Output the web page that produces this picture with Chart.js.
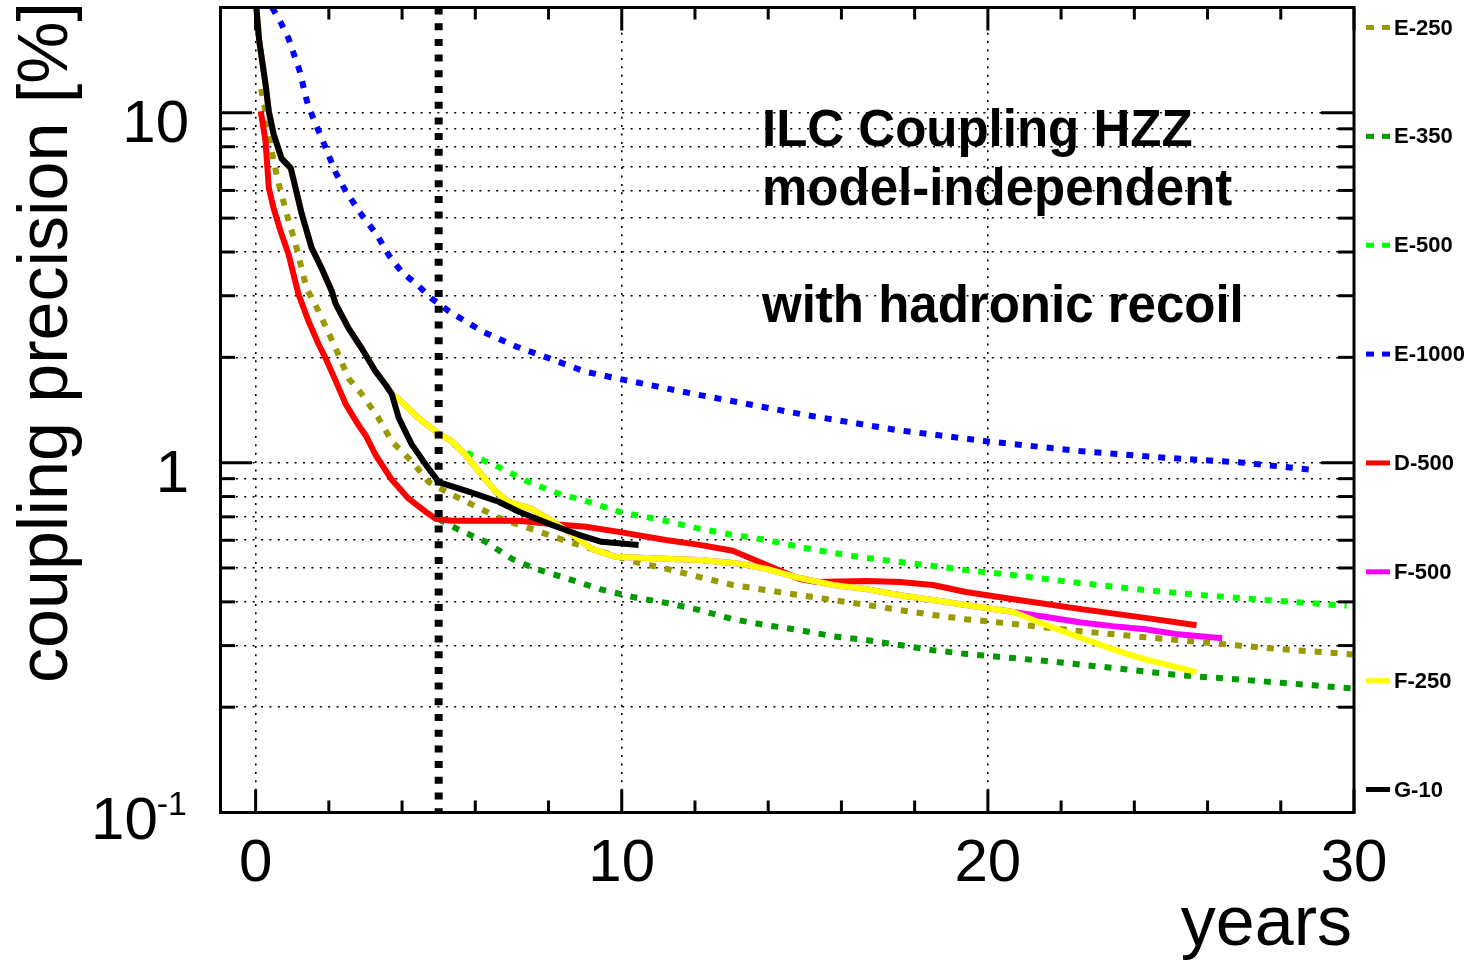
<!DOCTYPE html>
<html>
<head>
<meta charset="utf-8">
<script src="https://cdn.jsdelivr.net/npm/chart.js@4.4.1/dist/chart.umd.min.js"></script>
<style>
  html, body { margin: 0; padding: 0; background: #fff; }
  canvas { display: block; }
</style>
</head>
<body>
<canvas id="hzz-chart" width="1476" height="963"></canvas>
<script>
// values: x = years, y = coupling precision [%]
const E250_X = [0.15, 0.27, 0.36, 0.49, 0.63, 0.85, 1.12, 1.39, 1.72, 2.19, 2.54, 2.9, 3.36, 3.72, 4.26, 4.73, 5.36, 5.9, 6.72, 7.65, 8.55, 9.45, 10.38, 11.23, 12.13, 13.03, 13.96, 14.86, 15.77, 16.69, 17.6, 18.5, 19.4, 20.7, 22.5, 24.3, 26.1, 28.0, 30];
const E250_Y = [11.7, 10.1, 8.71, 7.29, 6.27, 5.14, 4.11, 3.15, 2.71, 2.12, 1.74, 1.57, 1.34, 1.15, 1.01, 0.88, 0.81, 0.76, 0.69, 0.64, 0.594, 0.556, 0.52, 0.497, 0.471, 0.447, 0.432, 0.418, 0.405, 0.392, 0.379, 0.367, 0.357, 0.346, 0.33, 0.317, 0.305, 0.293, 0.283];

const E350_X = [5.0, 5.55, 6.28, 7.0, 7.65, 8.55, 9.4, 10.3, 11.23, 12.13, 13.03, 13.96, 14.86, 15.77, 16.69, 17.6, 18.5, 19.4, 21.6, 23.4, 25.2, 27.1, 28.9, 30];
const E350_Y = [0.69, 0.643, 0.594, 0.531, 0.497, 0.465, 0.435, 0.413, 0.397, 0.379, 0.357, 0.343, 0.332, 0.319, 0.311, 0.301, 0.291, 0.284, 0.271, 0.259, 0.247, 0.239, 0.231, 0.226];

const E500_X = [5.4, 5.9, 6.56, 7.46, 8.28, 9.1, 9.92, 11.2, 12.13, 13.03, 13.96, 14.86, 15.77, 16.69, 17.6, 18.5, 19.4, 20.7, 22.5, 24.3, 26.1, 28.0, 29.8];
const E500_Y = [1.13, 1.05, 0.98, 0.88, 0.815, 0.773, 0.724, 0.682, 0.647, 0.622, 0.601, 0.574, 0.552, 0.534, 0.52, 0.507, 0.493, 0.477, 0.453, 0.432, 0.416, 0.402, 0.39];

const E1000_X = [0.45, 0.7, 0.9, 1.2, 1.4, 1.55, 1.9, 2.2, 2.45, 2.9, 3.3, 3.65, 4.0, 4.45, 4.8, 5.3, 6.2, 7.1, 8.0, 9.0, 10, 12, 15, 17.5, 20, 22.5, 25, 27, 29];
const E1000_Y = [20, 18, 16.3, 13.2, 10.8, 9.8, 8.0, 6.7, 6.0, 5.1, 4.5, 3.9, 3.5, 3.2, 2.95, 2.7, 2.37, 2.15, 1.99, 1.82, 1.73, 1.57, 1.37, 1.24, 1.15, 1.08, 1.03, 1.0, 0.95];

const D500_X = [0.14, 0.27, 0.36, 0.49, 0.68, 0.9, 1.17, 1.45, 1.72, 1.91, 2.19, 2.46, 2.81, 3.0, 3.28, 3.72, 4.18, 4.64, 4.92, 5.36, 6.28, 7.19, 8.09, 9.02, 9.92, 11.2, 12.13, 13.03, 13.96, 14.86, 15.33, 16.69, 17.6, 18.5, 19.4, 20.7, 22.5, 24.3, 25.7];
const D500_Y = [10.1, 8.31, 6.1, 5.34, 4.59, 3.94, 3.03, 2.53, 2.18, 1.99, 1.71, 1.47, 1.28, 1.2, 1.05, 0.893, 0.789, 0.724, 0.691, 0.682, 0.682, 0.682, 0.668, 0.656, 0.634, 0.601, 0.582, 0.56, 0.51, 0.465, 0.456, 0.459, 0.456, 0.447, 0.427, 0.407, 0.382, 0.36, 0.343];

const G10_X = [0.02, 0.1, 0.27, 0.36, 0.49, 0.71, 0.96, 1.09, 1.26, 1.53, 1.8, 2.08, 2.19, 2.54, 2.9, 3.28, 3.55, 3.72, 3.91, 4.26, 4.64, 5.0, 5.82, 6.64, 7.19, 8.09, 8.83, 9.45, 10.46];
const G10_Y = [20, 16, 12.1, 10.1, 8.7, 7.4, 6.95, 6.1, 5.14, 4.11, 3.6, 3.09, 2.84, 2.42, 2.12, 1.82, 1.67, 1.57, 1.34, 1.13, 0.99, 0.88, 0.826, 0.773, 0.724, 0.664, 0.622, 0.594, 0.582];

const F250_X = [0.02, 0.1, 0.27, 0.36, 0.49, 0.71, 0.96, 1.09, 1.26, 1.53, 1.8, 2.08, 2.19, 2.54, 2.9, 3.28, 3.55, 3.72, 3.91, 4.45, 5.0, 5.36, 5.74, 6.17, 6.56, 6.91, 7.54, 8.0, 8.55, 9.18, 9.84, 11.2, 12.13, 13.22, 13.96, 14.86, 15.77, 16.69, 17.6, 18.5, 19.4, 20.7, 21.6, 22.5, 23.4, 24.3, 25.7];
const F250_Y = [20, 16, 12.1, 10.1, 8.7, 7.4, 6.95, 6.1, 5.14, 4.11, 3.6, 3.09, 2.84, 2.42, 2.12, 1.82, 1.67, 1.57, 1.52, 1.34, 1.21, 1.15, 1.05, 0.924, 0.826, 0.773, 0.738, 0.691, 0.634, 0.567, 0.538, 0.531, 0.527, 0.514, 0.497, 0.468, 0.447, 0.435, 0.418, 0.405, 0.392, 0.374, 0.343, 0.317, 0.293, 0.274, 0.252];

const F500_X = [0.02, 0.1, 0.27, 0.36, 0.49, 0.71, 0.96, 1.09, 1.26, 1.53, 1.8, 2.08, 2.19, 2.54, 2.9, 3.28, 3.55, 3.72, 3.91, 4.45, 5.0, 5.36, 5.74, 6.17, 6.56, 6.91, 7.54, 8.0, 8.55, 9.18, 9.84, 11.2, 12.13, 13.22, 13.96, 14.86, 15.77, 16.69, 17.6, 18.5, 19.4, 20.7, 21.6, 22.5, 23.4, 24.3, 25.2, 26.1, 26.4];
const F500_Y = [20, 16, 12.1, 10.1, 8.7, 7.4, 6.95, 6.1, 5.14, 4.11, 3.6, 3.09, 2.84, 2.42, 2.12, 1.82, 1.67, 1.57, 1.52, 1.34, 1.21, 1.15, 1.05, 0.924, 0.826, 0.773, 0.738, 0.691, 0.634, 0.567, 0.538, 0.531, 0.527, 0.514, 0.497, 0.468, 0.447, 0.435, 0.418, 0.405, 0.392, 0.374, 0.362, 0.35, 0.341, 0.334, 0.323, 0.317, 0.315];

// the dotted marker at year 5
const MARK_X = [5, 5];
const MARK_Y = [20, 0.1];

const LABELS = ['E-250', 'E-350', 'E-500', 'E-1000', 'D-500', 'F-500', 'F-250', 'G-10'];
const X_TICKS = [0, 10, 20, 30];
const Y_TICKS = [10, 1, 0.1];
const NOTE_LINES = ['ILC Coupling HZZ', 'model-independent', '', 'with hadronic recoil'];

const COLORS = ['#999900', '#009900', '#00ff00', '#0000ff', '#ff0000', '#ff00ff', '#ffff00', '#000000'];
const DOTTED = [true, true, true, true, false, false, false, false];
const FONT = '"Liberation Sans", Arial, Helvetica, sans-serif';

function points(xs, ys) {
  return xs.map((x, i) => ({x: x, y: ys[i]}));
}

function series(i, xs, ys, order) {
  return {
    label: LABELS[i],
    data: points(xs, ys),
    borderColor: COLORS[i],
    borderWidth: 6,
    borderDash: DOTTED[i] ? [7, 9] : [],
    borderCapStyle: 'butt',
    borderJoinStyle: 'round',
    pointRadius: 0,
    tension: 0,
    fill: false,
    order: order
  };
}

function line(ctx, x1, y1, x2, y2) {
  ctx.beginPath();
  ctx.moveTo(x1, y1);
  ctx.lineTo(x2, y2);
  ctx.stroke();
}

const decorations = {
  id: 'decorations',
  afterDraw(chart) {
    const ctx = chart.ctx;
    const a = chart.chartArea;
    const xs = chart.scales.x;
    const ys = chart.scales.y;
    ctx.save();
    ctx.strokeStyle = '#000';
    ctx.fillStyle = '#000';
    ctx.setLineDash([]);

    // frame
    ctx.lineWidth = 3;
    ctx.strokeRect(a.left + 1.5, a.top, a.right - a.left - 1.5, a.bottom - a.top);

    // x tick marks, inside the frame
    for (let v = 0; v <= 30; v += 2) {
      const px = xs.getPixelForValue(v);
      const len = v % 10 === 0 ? 23 : 12;
      line(ctx, px, a.bottom, px, a.bottom - len);
      line(ctx, px, a.top, px, a.top + len);
    }
    // y tick marks, both sides
    [0.1, 1, 10].forEach(d => {
      for (let m = 1; m <= 9; m++) {
        const v = m * d;
        if (v > 20.001) continue;
        const py = ys.getPixelForValue(v);
        const len = m === 1 ? 33 : 16;
        line(ctx, a.left, py, a.left + len, py);
        line(ctx, a.right, py, a.right - len, py);
      }
    });

    // tick labels
    ctx.font = '60px ' + FONT;
    ctx.textAlign = 'center';
    ctx.textBaseline = 'alphabetic';
    X_TICKS.forEach(v => {
      ctx.fillText(String(v), xs.getPixelForValue(v), a.bottom + 68);
    });
    ctx.textAlign = 'right';
    Y_TICKS.forEach(v => {
      const py = ys.getPixelForValue(v);
      if (v >= 1) {
        ctx.font = '60px ' + FONT;
        ctx.fillText(String(v), 189, py + 29);
      } else {
        const exp = String(Math.round(Math.log10(v)));
        ctx.font = '34px ' + FONT;
        const w = ctx.measureText(exp).width;
        ctx.textAlign = 'left';
        ctx.fillText(exp, 187 - w, py + 2);
        ctx.textAlign = 'right';
        ctx.font = '60px ' + FONT;
        ctx.fillText('10', 188 - w, py + 26);
      }
    });

    // axis titles
    ctx.font = '70px ' + FONT;
    ctx.textAlign = 'right';
    ctx.fillText('years', a.right - 2, 945);
    ctx.save();
    ctx.translate(67, 2);
    ctx.rotate(-Math.PI / 2);
    ctx.fillText('coupling precision [%]', 0, 0);
    ctx.restore();

    // note inside the frame
    ctx.font = 'bold 51px ' + FONT;
    ctx.textAlign = 'left';
    NOTE_LINES.forEach((t, i) => {
      if (t) ctx.fillText(t, 762, 146 + i * 58.5);
    });

    // legend on the right
    const step = (a.bottom - a.top - 43) / (LABELS.length - 1);
    ctx.font = 'bold 22px ' + FONT;
    ctx.textBaseline = 'middle';
    LABELS.forEach((lab, i) => {
      const yc = a.top + 20 + i * step;
      ctx.strokeStyle = COLORS[i];
      ctx.lineWidth = 5;
      ctx.setLineDash(DOTTED[i] ? [8, 8] : []);
      line(ctx, 1366, yc, 1390, yc);
      ctx.fillText(lab, 1394, yc + 1);
    });
    ctx.restore();
  }
};

const ctx = document.getElementById('hzz-chart');

const chart = new Chart(ctx, {
  type: 'line',
  data: {
    datasets: [
      {
        label: 'year 5',
        data: points(MARK_X, MARK_Y),
        borderColor: '#000',
        borderWidth: 8,
        borderDash: [7, 8.7],
        borderCapStyle: 'butt',
        pointRadius: 0,
        order: 0
      },
      series(7, G10_X, G10_Y, 1),
      series(6, F250_X, F250_Y, 2),
      series(5, F500_X, F500_Y, 3),
      series(4, D500_X, D500_Y, 4),
      series(3, E1000_X, E1000_Y, 5),
      series(2, E500_X, E500_Y, 6),
      series(1, E350_X, E350_Y, 7),
      series(0, E250_X, E250_Y, 8)
    ]
  },
  options: {
    responsive: false,
    animation: false,
    devicePixelRatio: 1,
    layout: {
      padding: {left: 219, right: 122, top: 7.5, bottom: 150.5}
    },
    plugins: {
      legend: {display: false},
      tooltip: {enabled: false}
    },
    scales: {
      x: {
        type: 'linear',
        min: -1,
        max: 30,
        afterBuildTicks: (scale) => {
          scale.ticks = [0, 10, 20].map(v => ({value: v}));
        },
        ticks: {display: false},
        grid: {color: '#000', lineWidth: 1.6, drawTicks: false},
        border: {display: false, dash: [2, 6.4]}
      },
      y: {
        type: 'logarithmic',
        min: 0.1,
        max: 20,
        afterBuildTicks: (scale) => {
          const t = [];
          [0.1, 1, 10].forEach(d => {
            for (let m = 1; m <= 9; m++) {
              if (m * d <= 20.001) t.push({value: m * d});
            }
          });
          scale.ticks = t;
        },
        ticks: {display: false},
        grid: {color: '#000', lineWidth: 1.6, drawTicks: false},
        border: {display: false, dash: [2, 6.4]}
      }
    }
  },
  plugins: [decorations]
});
</script>
</body>
</html>
